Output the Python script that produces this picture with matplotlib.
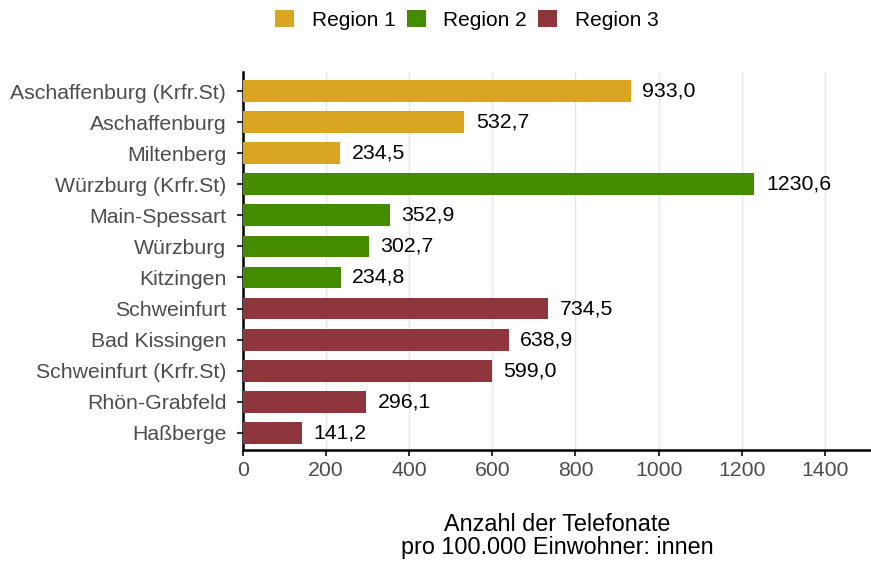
import matplotlib
matplotlib.use('Agg')
import matplotlib.pyplot as plt
from matplotlib.patches import Patch

plt.rcParams['font.family'] = ['Liberation Sans', 'DejaVu Sans']

# data, top to bottom
kreise = ['Aschaffenburg (Krfr.St)', 'Aschaffenburg', 'Miltenberg',
          'Würzburg (Krfr.St)', 'Main-Spessart', 'Würzburg', 'Kitzingen',
          'Schweinfurt', 'Bad Kissingen', 'Schweinfurt (Krfr.St)',
          'Rhön-Grabfeld', 'Haßberge']
werte = [933.0, 532.7, 234.5, 1230.6, 352.9, 302.7, 234.8,
         734.5, 638.9, 599.0, 296.1, 141.2]
region = [1, 1, 1, 2, 2, 2, 2, 3, 3, 3, 3, 3]
region_names = ['Region 1', 'Region 2', 'Region 3']
region_colors = {1: '#DAA520', 2: '#458B00', 3: '#8E363C'}
xticks = [0, 200, 400, 600, 800, 1000, 1200, 1400]

fig = plt.figure(figsize=(8.71, 5.61), dpi=100)
ax = fig.add_axes([0.279, 0.198, 0.721, 0.674])

ypos = list(range(len(kreise)))
cols = [region_colors[r] for r in region]
ax.barh(ypos, werte, height=0.7, color=cols, zorder=3)

for y, v in zip(ypos, werte):
    ax.text(v + 28, y, f'{v:.1f}'.replace('.', ','), va='center', ha='left',
            fontsize=15.3, color='black', zorder=4)

ax.set_yticks(ypos)
ax.set_yticklabels(kreise)
ax.set_ylim(11.55, -0.62)
ax.set_xlim(0, 1511)
ax.set_xticks(xticks)
ax.set_xticklabels([str(t) for t in xticks])

ax.tick_params(axis='both', labelsize=15.3, labelcolor='#4D4D4D', color='#333333',
               length=4, width=1.5)
ax.tick_params(axis='y', pad=8)
ax.tick_params(axis='x', pad=4)

for s in ['top', 'right']:
    ax.spines[s].set_visible(False)
for s in ['left', 'bottom']:
    ax.spines[s].set_linewidth(1.8)
    ax.spines[s].set_color('black')

ax.grid(axis='x', color='#E5E5E5', linewidth=1.0, zorder=0)
ax.set_axisbelow(True)

ax.set_xlabel('Anzahl der Telefonate\npro 100.000 Einwohner: innen',
              fontsize=16.8, color='black', labelpad=24, linespacing=1.0)

handles = [Patch(facecolor=region_colors[i + 1], label=n) for i, n in enumerate(region_names)]
fig.legend(handles=handles, loc='upper center', bbox_to_anchor=(0.536, 1.016), ncol=3,
           frameon=False, fontsize=15, handlelength=0.9, handleheight=0.9,
           handletextpad=0.85, columnspacing=0.55)

fig.savefig('out.png', dpi=100)
